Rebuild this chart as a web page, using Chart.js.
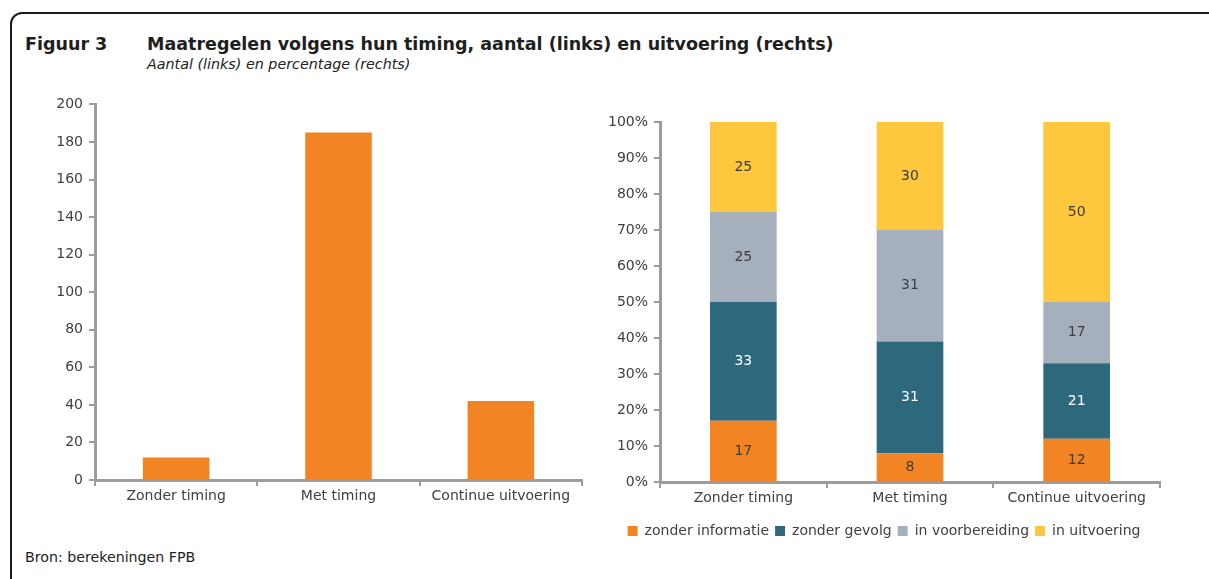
<!DOCTYPE html>
<html>
<head>
<meta charset="utf-8">
<script src="https://cdn.jsdelivr.net/npm/chart.js@4"></script>
<style>
    body { margin: 0; background: #fff; font-family: "DejaVu Sans", sans-serif; color: #1e1e1e; }
    #page { position: relative; width: 1209px; height: 579px; overflow: hidden; }
    #frame { position: absolute; left: 10px; top: 12px; width: 1300px; height: 700px; border: 2px solid #1a1a1a; border-top-left-radius: 12px; }
    .title { position: absolute; top: 34px; font-size: 17.5px; font-weight: bold; }
    #sub { position: absolute; left: 147px; top: 56px; font-size: 14.3px; font-style: italic; color: #222; }
    #bron { position: absolute; left: 25px; top: 549px; font-size: 14.2px; color: #222; }
    #left { position: absolute; left: 0; top: 90px; }
    #right { position: absolute; left: 600px; top: 90px; }
</style>
</head>
<body>
<div id="page">
    <div id="frame"></div>
    <div class="title" style="left:25px">Figuur 3</div>
    <div class="title" style="left:147px">Maatregelen volgens hun timing, aantal (links) en uitvoering (rechts)</div>
    <div id="sub">Aantal (links) en percentage (rechts)</div>
    <canvas id="left" width="600" height="430"></canvas>
    <canvas id="right" width="609" height="482"></canvas>
    <div id="bron">Bron: berekeningen FPB</div>
</div>
<script>
// gegevens
const categories = ['Zonder timing', 'Met timing', 'Continue uitvoering'];
const aantal = [12, 185, 42];

const reeksen = ['zonder informatie', 'zonder gevolg', 'in voorbereiding', 'in uitvoering'];
const zonderInformatie = [17, 8, 12];
const zonderGevolg = [33, 31, 21];
const inVoorbereiding = [25, 31, 17];
const inUitvoering = [25, 30, 50];

const kleuren = ['#F28424', '#2E687C', '#A6B0BD', '#FFC73D'];
const labelKleuren = ['#3c3c3c', '#ffffff', '#3c3c3c', '#3c3c3c'];

const axisColor = '#9c9c9c';
const tickFont = { family: 'DejaVu Sans', size: 14 };

Chart.defaults.font.family = 'DejaVu Sans';
Chart.defaults.color = '#404040';

// labels in de gestapelde balken
const barLabels = {
    id: 'barLabels',
    afterDatasetsDraw(chart) {
        const ctx = chart.ctx;
        ctx.save();
        ctx.font = '14px "DejaVu Sans"';
        ctx.textAlign = 'center';
        ctx.textBaseline = 'middle';
        chart.data.datasets.forEach((ds, i) => {
            const meta = chart.getDatasetMeta(i);
            meta.data.forEach((bar, j) => {
                ctx.fillStyle = labelKleuren[i];
                ctx.fillText(ds.data[j], bar.x, (bar.y + bar.base) / 2);
            });
        });
        ctx.restore();
    }
};

new Chart(document.getElementById('left'), {
    type: 'bar',
    data: {
        labels: categories,
        datasets: [{
            data: aantal,
            backgroundColor: kleuren[0],
            barPercentage: 0.41,
            categoryPercentage: 1
        }]
    },
    options: {
        responsive: false,
        animation: false,
        layout: { padding: { left: 0, right: 18, top: 12, bottom: 0 } },
        plugins: { legend: { display: false }, tooltip: { enabled: false } },
        scales: {
            x: {
                grid: { drawOnChartArea: false, tickLength: 6, color: axisColor, lineWidth: 2 },
                border: { color: axisColor, width: 3 },
                ticks: { font: tickFont, padding: 2 },
                afterFit(s) { s.height = 40; }
            },
            y: {
                min: 0, max: 200,
                grid: { drawOnChartArea: false, tickLength: 6, color: axisColor, lineWidth: 2 },
                border: { color: axisColor, width: 3 },
                ticks: { stepSize: 20, font: tickFont, padding: 6 },
                afterFit(s) { s.width = 95; }
            }
        }
    }
});

const stapels = [zonderInformatie, zonderGevolg, inVoorbereiding, inUitvoering];

new Chart(document.getElementById('right'), {
    type: 'bar',
    data: {
        labels: categories,
        datasets: reeksen.map((naam, i) => ({
            label: naam,
            data: stapels[i],
            backgroundColor: kleuren[i],
            barPercentage: 0.4,
            categoryPercentage: 1
        }))
    },
    options: {
        responsive: false,
        animation: false,
        layout: { padding: { left: 8, right: 49, top: 32, bottom: 24 } },
        plugins: {
            tooltip: { enabled: false },
            legend: {
                position: 'bottom',
                labels: { boxWidth: 10, boxHeight: 10, padding: 6, font: { size: 14 }, color: '#404040' }
            }
        },
        scales: {
            x: {
                stacked: true,
                grid: { drawOnChartArea: false, tickLength: 6, color: axisColor, lineWidth: 2 },
                border: { color: axisColor, width: 3 },
                ticks: { font: tickFont, padding: 2 },
                afterFit(s) { s.height = 36; }
            },
            y: {
                stacked: true,
                min: 0, max: 100,
                grid: { drawOnChartArea: false, tickLength: 6, color: axisColor, lineWidth: 2 },
                border: { color: axisColor, width: 3 },
                ticks: { stepSize: 10, font: tickFont, padding: 6, callback: v => v + '%' },
                afterFit(s) { s.width = 52; }
            }
        }
    },
    plugins: [barLabels]
});
</script>
</body>
</html>
